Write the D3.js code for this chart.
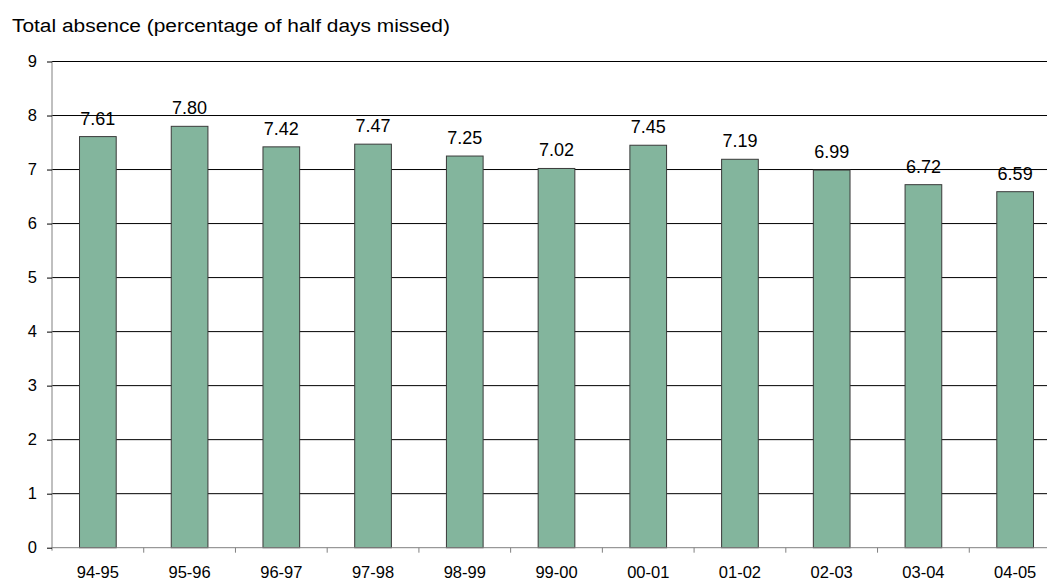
<!DOCTYPE html>
<html>
<head>
<meta charset="utf-8">
<script src="https://cdn.jsdelivr.net/npm/d3@7"></script>
<style>
  html, body { margin: 0; padding: 0; background: #fff; }
  svg { display: block; font-family: "Liberation Sans", Arial, sans-serif; }
</style>
</head>
<body>
<svg id="chart" width="1047" height="579"></svg>
<script>
const categories = ["94-95","95-96","96-97","97-98","98-99","99-00","00-01","01-02","02-03","03-04","04-05"];
const values = [7.61, 7.80, 7.42, 7.47, 7.25, 7.02, 7.45, 7.19, 6.99, 6.72, 6.59];
const yTicks = [0,1,2,3,4,5,6,7,8,9];
const title = "Total absence (percentage of half days missed)";

(function () {
const svg = d3.select("#chart");
const pLeft = 52, pRight = 1061, pTop = 61.5, pBottom = 547.7;

const x = d3.scaleBand().domain(categories).range([pLeft, pRight]).paddingInner(0.6).paddingOuter(0.3);
const y = d3.scaleLinear().domain([0, 9]).range([pBottom, pTop]);
const step = x.step();

// title
svg.append("text").attr("transform", "translate(12,32.3) scale(1.1,1)")
  .attr("font-size", 19).attr("fill", "#000").text(title);

// gridlines
svg.append("g").selectAll("line").data(yTicks.filter(t => t > 0)).join("line")
  .attr("x1", pLeft).attr("x2", pRight + 20)
  .attr("y1", d => y(d)).attr("y2", d => y(d))
  .attr("stroke", "#000").attr("stroke-width", 1);

// y axis
const yAxis = d3.axisLeft(y).tickValues(yTicks).tickSize(5).tickPadding(10).tickFormat(d3.format("d"));
const gy = svg.append("g").attr("transform", `translate(${pLeft},0)`).call(yAxis);
gy.select(".domain").attr("stroke", "#808080").attr("d", `M0,${pTop}V${pBottom + 3}`);
gy.selectAll(".tick line").attr("stroke", "#000");
gy.selectAll(".tick text").attr("font-size", 16.5).attr("fill", "#000").attr("font-family", "Liberation Sans, Arial, sans-serif");

// bars
svg.append("g").selectAll("rect").data(values).join("rect")
  .attr("x", (d, i) => x(categories[i]))
  .attr("y", d => y(d))
  .attr("width", x.bandwidth())
  .attr("height", d => y(0) - y(d))
  .attr("fill", "#83b59d")
  .attr("stroke", "#3a3a3a").attr("stroke-width", 1);

// x axis
const gx = svg.append("g");
gx.append("line").attr("x1", pLeft).attr("x2", pRight + 20).attr("y1", y(0)).attr("y2", y(0)).attr("stroke", "#808080");
gx.selectAll("line.tk").data(categories.slice(1)).join("line").attr("class", "tk")
  .attr("x1", d => x(d) + x.bandwidth() / 2 - step / 2)
  .attr("x2", d => x(d) + x.bandwidth() / 2 - step / 2)
  .attr("y1", y(0)).attr("y2", y(0) + 5).attr("stroke", "#808080");
gx.selectAll("text").data(categories).join("text")
  .attr("x", d => x(d) + x.bandwidth() / 2)
  .attr("y", 577.5)
  .attr("text-anchor", "middle").attr("font-size", 16.5).attr("fill", "#000")
  .text(d => d);

// value labels
svg.append("g").selectAll("text").data(values).join("text")
  .attr("x", (d, i) => x(categories[i]) + x.bandwidth() / 2)
  .attr("y", d => y(d) - 12)
  .attr("text-anchor", "middle").attr("font-size", 18).attr("fill", "#000")
  .text(d => d.toFixed(2));
})();
</script>
</body>
</html>
